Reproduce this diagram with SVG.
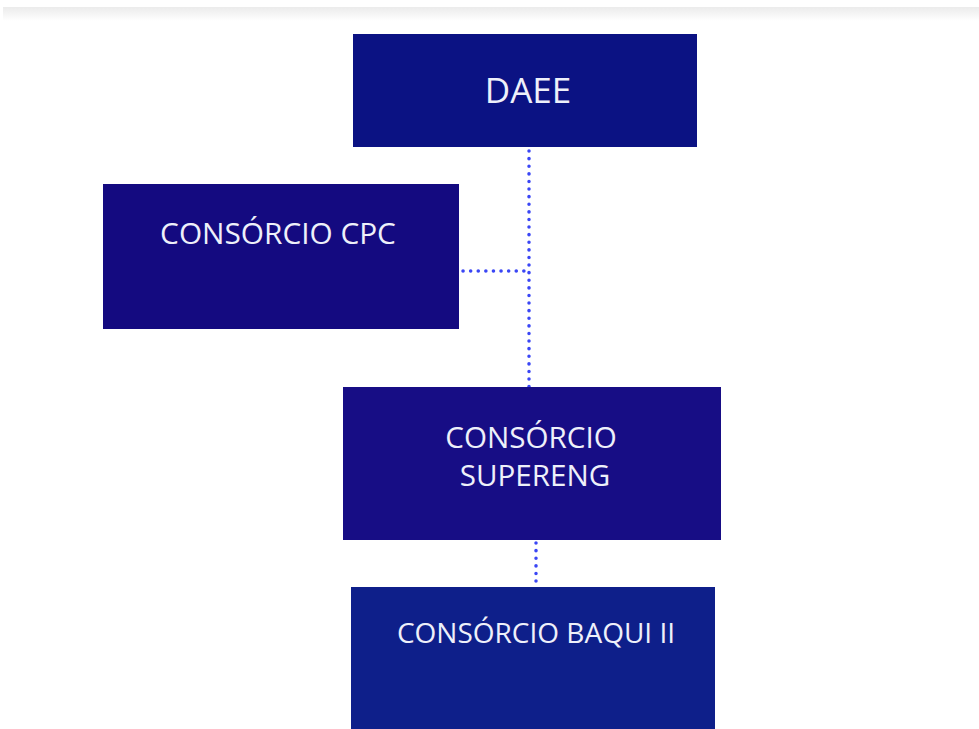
<svg xmlns="http://www.w3.org/2000/svg" width="979" height="729" viewBox="0 0 979 729">
<style>
text{font-family:"Open Sans","Noto Sans",sans-serif;fill:#eef0fa;text-anchor:middle}
.dot{stroke:#3a46f5;stroke-width:3.5;stroke-linecap:round;stroke-dasharray:0.1 7.5;fill:none}
</style>
<defs>
<linearGradient id="sh" x1="0" y1="0" x2="0" y2="1">
<stop offset="0" stop-color="#ebebeb"/>
<stop offset="1" stop-color="#ffffff"/>
</linearGradient>
</defs>
<rect width="979" height="729" fill="#fff"/>
<rect x="3" y="7" width="976" height="14" fill="url(#sh)"/>
<g id="connectors">
<line class="dot" x1="529" y1="151" x2="529" y2="396"/>
<line class="dot" x1="463" y1="271" x2="527" y2="271"/>
<line class="dot" x1="536" y1="543" x2="536" y2="586"/>
</g>
<g id="daee">
<rect x="353" y="34" width="344" height="113" fill="#0b1283"/>
<text x="528" y="103" font-size="35">DAEE</text>
</g>
<g id="cpc">
<rect x="103" y="184" width="356" height="145" fill="#140a80"/>
<text x="278" y="244" font-size="29.8">CONSÓRCIO CPC</text>
</g>
<g id="supereng">
<rect x="343" y="387" width="378" height="153" fill="#170d85"/>
<text x="531" y="448" font-size="29.6">CONSÓRCIO</text>
<text x="535" y="486" font-size="29.6">SUPERENG</text>
</g>
<g id="baqui">
<rect x="351" y="587" width="364" height="142" fill="#0e1f8a"/>
<text x="536" y="643" font-size="28">CONSÓRCIO BAQUI II</text>
</g>
</svg>
